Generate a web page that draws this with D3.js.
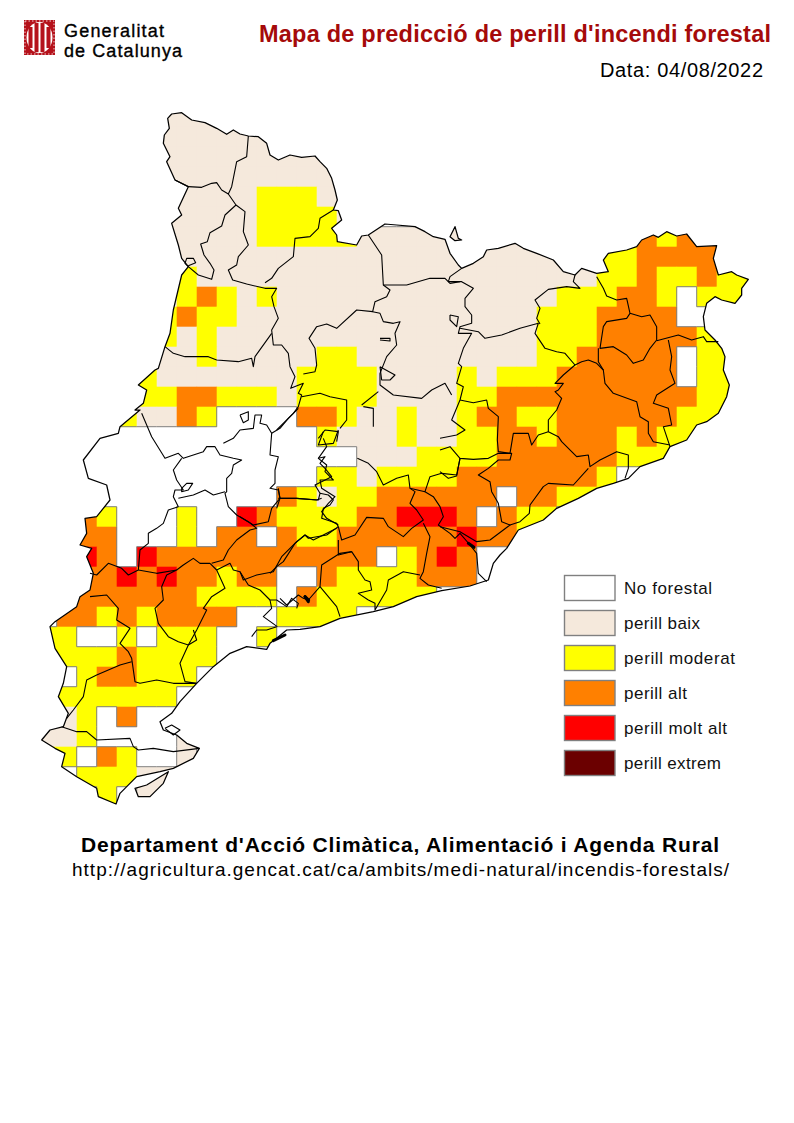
<!DOCTYPE html>
<html>
<head>
<meta charset="utf-8">
<script src="https://cdn.jsdelivr.net/npm/d3@7"></script>
<style>
  html, body { margin: 0; padding: 0; background: #fff; }
  text { font-family: "Liberation Sans", Arial, sans-serif; }
</style>
</head>
<body>
<div id="app"></div>
<script>
var titleText = "Mapa de predicció de perill d'incendi forestal";
var dateText = "Data: 04/08/2022";
var deptText = "Departament d'Acció Climàtica, Alimentació i Agenda Rural";
var urlText = "http://agricultura.gencat.cat/ca/ambits/medi-natural/incendis-forestals/";
var logoLines = ["Generalitat", "de Catalunya"];

var levelCodes = [".", "b", "y", "o", "r", "x"];
var levelNames = ["No forestal", "perill baix", "perill moderat", "perill alt", "perill molt alt", "perill extrem"];

// one entry per grid row, "12y" = from column 12 on the level is y
var dangerRows = [
  "6b 17.",
  "6b 17.",
  "6b 17.",
  "6b 17.",
  "6b 11y 14b 17.",
  "6b 11y 15b 17.",
  "6b 11y 16b 30o 31y 32o 34.",
  "6b 28y 30o 34.",
  "5b 7y 8b 28y 30o 31y 33o 34y",
  "6b 7y 8o 9y 10b 11y 12b 26y 29o 31y 32. 33y",
  "6y 7o 8y 10b 25y 28o 32. 34.",
  "6y 7b 8y 9b 25y 28o 33y 35.",
  "5b 8y 9b 14y 16b 25y 27o 32. 33y 35.",
  "5y 6b 13y 17b 21y 22b 23y 26o 32. 33y 35.",
  "4y 7o 9y 12b 13y 17b 21y 23o 33y 35.",
  "4y 5b 7o 8y 9. 13o 15y 16b 18y 19b 21y 22o 24y 26o 32y 35.",
  "14y 15b 18y 19b 21y 23o 25y 26o 29y 30o 31y 34.",
  "16b 19y 23o 29y 33.",
  "14y 16b 17y 21o 28y 29.",
  "12o 13y 14b 15y 17o 23. 24o 26y 29.",
  "2o 3y 4. 7y 8. 10r 11o 12y 16o 18r 21o 22. 23o 24y 26.",
  "2o 4. 7y 8. 9o 11. 12o 13y 15o 21r 22o 24y 25.",
  "2r 3o 4. 5r 6o 17. 18y 19o 20r 21o 22.",
  "2o 4r 5o 6r 7o 9y 10o 12. 14o 15y 19o 22.",
  "2o 8y 12. 13o 14y 20.",
  "1o 3y 4o 5y 6o 10. 12y 16.",
  "0y 2. 4y 5. 6y 9. 11y 12.",
  "0y 4o 5y 9.",
  "1. 2y 3o 5y 8.",
  "0y 7.",
  "0b 2y 3. 4o 5.",
  "0b 2y 3. 7b 8.",
  "0y 2. 3o 4y 5. 7b 8.",
  "1. 2y 5b 7.",
  "3y 4. 5b 7."
];

// outline, traced in four overlapping sheets at 3 units per page pixel
var outerNorth = [[100,130],[103,105],[118,85],[113,55],[125,42],[155,38],[185,60],[225,68],[260,85],[290,103],[310,90],[330,102],[355,108],[385,110],[410,130],[420,165],[445,180],[480,165],[515,172],[555,168],[570,185],[590,205],[605,235],[615,270],[622,300],[610,330],[625,332],[635,360],[605,385],[620,405],[622,425],[680,435],[695,408],[715,405],[765,372],[800,375],[855,380],[885,395],[910,410],[945,418],[960,460],[985,495]];
var outerEast = [[55,135],[65,145],[100,130],[130,110],[140,90],[175,85],[225,70],[250,85],[290,100],[340,120],[370,155],[405,165],[425,145],[470,160],[505,155],[490,120],[505,100],[560,90],[590,80],[605,60],[640,45],[655,52],[680,35],[710,48],[740,42],[770,80],[830,77],[820,115],[835,165],[875,155],[890,165],[925,178],[905,205],[905,225],[885,250],[845,240],[825,230],[800,250],[790,290],[795,330],[825,360],[845,385],[855,410],[850,450],[868,495],[860,530],[835,580],[800,605],[770,615],[740,660],[690,680],[670,715],[600,740],[565,775],[520,790],[470,805],[415,835],[350,865],[310,900],[235,930],[200,985]];
var outerCentral = [[690,375],[670,400],[655,450],[600,468],[515,482],[440,500],[370,530],[310,545],[210,565],[150,590],[90,598],[50,600],[20,625],[0,640]];
var outerSouth = [[680,748],[620,740],[570,760],[520,800],[470,850],[420,905],[395,940],[360,965],[370,990],[410,1005],[440,1030],[478,1045],[460,1075],[400,1105],[360,1115],[290,1130],[240,1180],[228,1212],[175,1190],[170,1165],[110,1130],[65,1100],[75,1060],[45,1045],[5,1020],[30,990],[70,980],[85,940],[55,890],[70,850],[80,800],[45,745],[30,680],[45,665],[110,620],[120,590],[150,570],[160,520],[140,470],[155,445],[120,435],[140,400],[135,355],[170,350],[210,300],[200,255],[145,235],[130,180],[180,115],[235,100],[240,80],[300,30]];
var outerWest = [[15,930],[40,910],[50,870],[25,855],[75,810],[85,805],[105,740],[120,700],[130,630],[155,525],[175,500],[155,475],[145,435],[125,370],[155,345],[145,325],[175,260],[135,240],[110,185],[120,170]];
var deltaTip = [[285,1165],[320,1155],[385,1115],[370,1150],[330,1190],[295,1190]];
var enclave = [[30,50],[45,20],[55,55],[65,60],[45,62]];

var linesNorth = [
  [[135,240],[175,260],[215,262],[245,250],[260,248],[275,270],[295,282],[305,260],[320,185],[350,170],[355,108]],
  [[295,282],[318,315],[345,335],[340,395],[355,435],[325,470],[320,495],[295,510],[308,540],[350,552],[405,565],[440,565],[425,590],[432,620],[445,655],[425,690],[430,735],[455,735],[475,760],[480,800],[495,830],[482,865],[520,850],[505,880],[515,885],[505,920],[490,940],[440,990]],
  [[318,315],[285,345],[275,378],[240,398],[232,425],[212,432],[222,465],[240,490],[252,510],[245,538],[205,525],[175,500],[165,490],[170,475],[190,475],[197,488],[175,497]],
  [[610,330],[570,355],[565,385],[540,410],[495,415],[490,470],[445,505],[425,535],[405,548]],
  [[715,405],[755,465],[760,555],[780,570],[770,590],[735,605],[728,635],[680,630],[620,685],[590,672],[560,680],[537,715],[555,745],[560,795],[555,815],[520,822]],
  [[760,555],[830,555],[900,535],[945,535],[960,550],[990,545]],
  [[728,635],[750,640],[760,665],[790,670],[810,665],[795,700],[800,735],[770,770],[750,820],[750,855],[790,885],[875,895],[905,870],[945,850],[965,885]],
  [[425,700],[375,770],[370,800],[365,775],[325,785],[260,780],[235,770],[165,770],[130,760],[105,740]],
  [[515,890],[570,880],[600,890],[650,900],[650,960],[630,985]],
  [[695,915],[745,875]],
  [[700,920],[730,925],[730,980]],
  [[750,800],[795,825],[780,840],[755,840],[750,800]],
  [[750,715],[780,715],[780,723],[750,720]]
];
var linesEast = [
  [[65,145],[30,170],[25,185],[65,185],[100,205],[75,235],[75,260],[95,285],[95,310],[60,320],[55,340],[95,340],[70,385],[55,430],[65,440],[50,490],[70,500],[60,540],[35,600],[75,630],[50,645],[0,655]],
  [[60,325],[115,335],[135,355],[185,345],[240,325],[295,310],[285,340],[315,385],[350,395],[375,400],[405,435],[425,425],[445,420],[470,430],[490,450],[495,490],[520,520],[590,545],[600,590],[625,605],[625,640],[640,665],[690,675]],
  [[405,165],[400,185],[420,205],[380,200],[325,208],[285,240],[300,265],[290,295],[300,312]],
  [[470,170],[490,205],[500,228],[530,240],[560,235],[570,280],[605,290],[630,285],[650,320],[650,360],[630,385],[610,420],[580,430],[560,405],[520,380],[480,385],[490,320],[500,305],[560,295],[570,280]],
  [[475,385],[475,425],[490,450]],
  [[650,362],[715,345],[755,360],[790,350],[800,365],[835,365]],
  [[685,360],[695,410],[690,450],[705,490],[650,525],[640,550],[685,565],[695,615],[670,620],[690,680]],
  [[405,435],[370,465],[345,490],[370,490],[355,510],[345,515],[365,535],[350,570],[325,600],[325,635],[355,650],[365,665],[410,710],[445,705],[450,740],[480,720],[530,695],[565,705],[565,745],[555,775]],
  [[60,540],[100,548],[140,540],[145,565],[175,590],[172,660],[175,695],[210,700],[220,640],[265,640],[275,675],[295,645],[325,635]],
  [[0,690],[30,680],[60,715],[100,718],[145,715],[175,700],[215,700],[210,720],[175,720],[145,745],[115,765],[150,785],[155,815],[175,850],[185,905],[210,915],[150,960],[110,965],[60,935],[0,920]],
  [[210,915],[240,905],[268,880],[270,855],[310,800],[325,790],[400,795],[445,745]],
  [[0,755],[25,775],[50,768],[60,715]],
  [[30,285],[55,290],[50,320],[30,300],[30,285]]
];
var linesCentral = [
  [[205,290],[215,330],[255,315],[290,262],[340,265],[355,290],[400,320],[425,295],[460,270],[440,240],[420,220],[435,185],[420,175]],
  [[262,85],[295,100],[320,125],[340,165],[380,145],[415,135],[420,175],[465,185],[480,140],[515,130],[560,135],[570,85]],
  [[465,185],[490,200],[510,230],[520,260],[505,285],[540,310],[555,325],[570,310],[600,345]],
  [[460,280],[480,320],[470,370],[460,425],[450,445],[475,465],[515,475]],
  [[600,345],[620,370],[625,430],[650,455]],
  [[205,330],[205,375],[245,365],[265,395],[265,420],[285,450],[300,455],[305,480],[265,490],[295,510],[315,520],[315,540],[350,480],[355,450],[400,425],[450,435]],
  [[245,365],[210,370],[155,405],[150,470],[115,510],[100,505],[85,495],[50,525],[30,505]],
  [[0,430],[20,410],[40,395],[75,340],[105,315],[115,325],[170,315],[205,290]],
  [[150,470],[200,530],[210,560]],
  [[25,205],[80,205],[145,210],[150,190],[175,195],[190,210],[180,225],[160,235],[155,265],[200,280],[205,290]],
  [[145,85],[165,80],[150,100],[165,115],[185,140],[135,165],[150,190]],
  [[160,5],[145,45],[190,40],[205,0]],
  [[25,175],[30,205],[20,235]]
];
var linesSouth = [
  [[305,40],[335,110],[375,175],[415,160],[430,175],[490,155],[500,140],[525,140],[540,165],[580,175],[605,180],[580,195],[575,220],[560,235],[560,275],[555,280],[565,320],[590,345],[625,365],[650,385],[630,390],[590,420],[565,450],[550,480],[515,490]],
  [[550,130],[580,115],[600,90],[640,85],[645,45],[665,45],[660,70],[680,75],[695,100],[690,165],[715,170],[705,210],[705,250],[690,265],[715,270],[720,295]],
  [[775,25],[745,55],[720,85],[695,100]],
  [[600,45],[625,35],[625,60],[610,68],[600,45]],
  [[415,320],[385,330],[370,370],[350,385],[325,400],[325,430],[300,450],[295,510],[265,525],[245,505],[205,490],[170,525],[150,520]],
  [[415,320],[400,290],[405,270],[430,270],[410,240],[400,210],[425,175]],
  [[415,295],[460,285],[495,270],[520,285],[555,275]],
  [[425,265],[440,250],[458,250],[445,270],[425,275],[425,265]],
  [[295,510],[350,520],[410,510],[380,525],[365,560],[370,600],[345,625],[355,670],[385,710],[415,725],[445,735],[470,690],[500,630],[490,625],[515,590],[555,565],[530,510],[510,490]],
  [[410,510],[430,495],[460,475],[480,490],[510,490]],
  [[530,510],[570,490],[580,510],[600,515],[610,540],[650,525],[700,515],[725,470],[770,425],[795,405],[820,420],[890,385]],
  [[600,515],[625,555],[660,570],[690,600],[710,600],[740,620],[755,595],[775,610],[770,625]],
  [[445,735],[420,790],[435,845],[470,850]],
  [[445,735],[470,720],[460,690]],
  [[150,590],[200,585],[235,625],[230,660],[270,685],[240,730],[265,755],[275,775],[285,845],[300,850],[350,840],[400,850],[470,850]],
  [[275,785],[240,795],[170,825],[140,840],[130,890],[100,930],[80,955]],
  [[65,980],[110,995],[140,995],[170,1020],[270,1015],[280,1040],[295,1050],[340,1045],[400,1055],[478,1045]],
  [[690,600],[695,625],[670,650],[712,680]],
  [[635,710],[650,690],[680,690],[710,680]],
  [[600,350],[640,375],[685,365],[695,325],[720,295],[770,295],[830,300],[845,295]],
  [[850,115],[860,140],[835,175],[860,195],[855,215],[880,240],[840,240],[845,265],[885,290],[865,310],[845,335],[860,355],[895,375]],
  [[835,115],[855,90],[895,95],[890,125]],
  [[375,985],[395,975],[420,990],[400,1005],[375,985]]
];
// heavy little tangles where many small borders bunch up
var knotsSouth = [[[700,722],[735,705]], [[795,590],[806,600]]];
var knotsCentral = [[[595,340],[612,352]], [[105,500],[115,515]]];

var svg = d3.select('#app')
  .append('svg')
  .attr('width', 794)
  .attr('height', 1123)
  .style('display', 'block');

function sheet(x0, y0) {
  var x = d3.scaleLinear().domain([0, 3]).range([x0, x0 + 1]);
  var y = d3.scaleLinear().domain([0, 3]).range([y0, y0 + 1]);
  return function(points) {
    return points.map(function(p) { return [x(p[0]), y(p[1])]; });
  };
}
var north = sheet(130, 100), east = sheet(440, 220), south = sheet(40, 400), central = sheet(270, 430);

var outline = [].concat(north(outerNorth), east(outerEast), central(outerCentral), south(outerSouth), north(outerWest));
var parts = [outline, south(deltaTip), east(enclave)];
var inner = [].concat(linesNorth.map(north), linesEast.map(east), linesCentral.map(central), linesSouth.map(south));
var knots = [].concat(knotsSouth.map(south), knotsCentral.map(central));

var line = d3.line();
function ring(points) { return line(points) + 'Z'; }

// scales
var colX = d3.scaleBand().domain(d3.range(36)).range([36.7, 756.7]);
var rowY = d3.scaleBand().domain(d3.range(dangerRows.length)).range([106.7, 106.7 + 20 * dangerRows.length]);
var levelColor = d3.scaleOrdinal().domain(levelCodes)
  .range(['#ffffff', '#f5e9dc', '#ffff00', '#ff8000', '#ff0000', '#6b0000']);

// expand the rows into cells
var cells = [];
var codeAt = {};
dangerRows.forEach(function(text, r) {
  var runs = text.split(' ').map(function(t) {
    return { from: parseInt(t), code: t.slice(-1) };
  });
  runs.forEach(function(run, i) {
    var to = i + 1 < runs.length ? runs[i + 1].from : 36;
    d3.range(run.from, to).forEach(function(c) {
      cells.push({ c: c, r: r, code: run.code });
      codeAt[r + '_' + c] = run.code;
    });
  });
});
function isWhite(r, c) { return (codeAt[r + '_' + c] || '.') === '.'; }

// grey edge where a no-forestal cell meets a coloured one
var edges = [];
cells.filter(function(d) { return d.code !== '.'; }).forEach(function(d) {
  var x = colX(d.c), y = rowY(d.r), s = colX.bandwidth();
  if (isWhite(d.r - 1, d.c)) edges.push([x, y, x + s, y]);
  if (isWhite(d.r + 1, d.c)) edges.push([x, y + s, x + s, y + s]);
  if (isWhite(d.r, d.c - 1)) edges.push([x, y, x, y + s]);
  if (isWhite(d.r, d.c + 1)) edges.push([x + s, y, x + s, y + s]);
});

svg.append('clipPath').attr('id', 'territory')
  .selectAll('path').data(parts).enter().append('path')
  .attr('d', ring);

var mapLayer = svg.append('g').attr('clip-path', 'url(#territory)');

mapLayer.selectAll('rect.cell')
  .data(cells.filter(function(d) { return d.code !== '.'; }))
  .enter().append('rect')
  .attr('class', 'cell')
  .attr('x', function(d) { return colX(d.c); })
  .attr('y', function(d) { return rowY(d.r); })
  .attr('width', colX.bandwidth() + 0.4)
  .attr('height', rowY.bandwidth() + 0.4)
  .attr('fill', function(d) { return levelColor(d.code); });

mapLayer.selectAll('line.edge')
  .data(edges)
  .enter().append('line')
  .attr('class', 'edge')
  .attr('x1', function(d) { return d[0]; })
  .attr('y1', function(d) { return d[1]; })
  .attr('x2', function(d) { return d[2]; })
  .attr('y2', function(d) { return d[3]; })
  .attr('stroke', '#808080')
  .attr('stroke-width', 1);

svg.append('g').selectAll('path.inner')
  .data(inner)
  .enter().append('path')
  .attr('class', 'inner')
  .attr('d', line)
  .attr('fill', 'none')
  .attr('stroke', '#000')
  .attr('stroke-width', 1.1)
  .attr('stroke-linejoin', 'round');

svg.append('g').selectAll('path.knot')
  .data(knots)
  .enter().append('path')
  .attr('class', 'knot')
  .attr('d', line)
  .attr('fill', 'none')
  .attr('stroke', '#000')
  .attr('stroke-width', 3)
  .attr('stroke-linecap', 'round');

svg.append('g').selectAll('path.outer')
  .data(parts)
  .enter().append('path')
  .attr('class', 'outer')
  .attr('d', ring)
  .attr('fill', 'none')
  .attr('stroke', '#000')
  .attr('stroke-width', 1.25)
  .attr('stroke-linejoin', 'round');

// legend
var legendY = d3.scalePoint().domain(levelCodes).range([575.5, 750.5]);
var labelWidth = d3.scaleOrdinal().domain(levelCodes).range([88, 76, 111, 63, 103, 97]);
var legend = svg.append('g').selectAll('g')
  .data(levelCodes)
  .enter().append('g')
  .attr('transform', function(d) { return 'translate(564.5,' + legendY(d) + ')'; });
legend.append('rect')
  .attr('width', 50.5)
  .attr('height', 25)
  .attr('fill', function(d) { return levelColor(d); })
  .attr('stroke', '#808080')
  .attr('stroke-width', 1.4);
legend.append('text')
  .attr('x', 59.5)
  .attr('y', 18.5)
  .attr('font-size', 17)
  .attr('fill', '#111')
  .attr('textLength', function(d) { return labelWidth(d); })
  .text(function(d, i) { return levelNames[i]; });

// headings
svg.append('text').attr('x', 259).attr('y', 42)
  .attr('font-size', 23.5).attr('font-weight', 'bold').attr('fill', '#a50a0a')
  .attr('textLength', 512).text(titleText);
svg.append('text').attr('x', 600).attr('y', 77)
  .attr('font-size', 20).attr('fill', '#000')
  .attr('textLength', 163).text(dateText);
svg.append('text').attr('x', 81).attr('y', 852)
  .attr('font-size', 21).attr('font-weight', 'bold').attr('fill', '#000')
  .attr('textLength', 638).text(deptText);
svg.append('text').attr('x', 72).attr('y', 876)
  .attr('font-size', 19).attr('fill', '#000')
  .attr('textLength', 657).text(urlText);

// logo
var logo = svg.append('g');
logo.append('rect').attr('x', 24).attr('y', 20).attr('width', 31).attr('height', 35).attr('fill', '#b5121b');
logo.append('rect').attr('x', 25).attr('y', 21).attr('width', 29).attr('height', 33)
  .attr('fill', 'none').attr('stroke', '#fff').attr('stroke-width', 0.8).attr('stroke-dasharray', '1.5 2');
logo.append('ellipse').attr('cx', 39.5).attr('cy', 37.5).attr('rx', 13).attr('ry', 15.5).attr('fill', '#fff');
logo.selectAll('rect.bar')
  .data(d3.range(4))
  .enter().append('rect')
  .attr('class', 'bar')
  .attr('x', function(d) { return 28.5 + d * 6; })
  .attr('y', function(d) { return d === 0 || d === 3 ? 27 : 23; })
  .attr('width', 4)
  .attr('height', function(d) { return d === 0 || d === 3 ? 21 : 29; })
  .attr('fill', '#b5121b');
logo.selectAll('text')
  .data(logoLines)
  .enter().append('text')
  .attr('x', 64)
  .attr('y', function(d, i) { return 37 + i * 20; })
  .attr('font-size', 18)
  .attr('fill', '#000')
  .attr('stroke', '#000')
  .attr('stroke-width', 0.35)
  .attr('textLength', function(d, i) { return i ? 118 : 100; })
  .text(function(d) { return d; });
</script>
</body>
</html>
